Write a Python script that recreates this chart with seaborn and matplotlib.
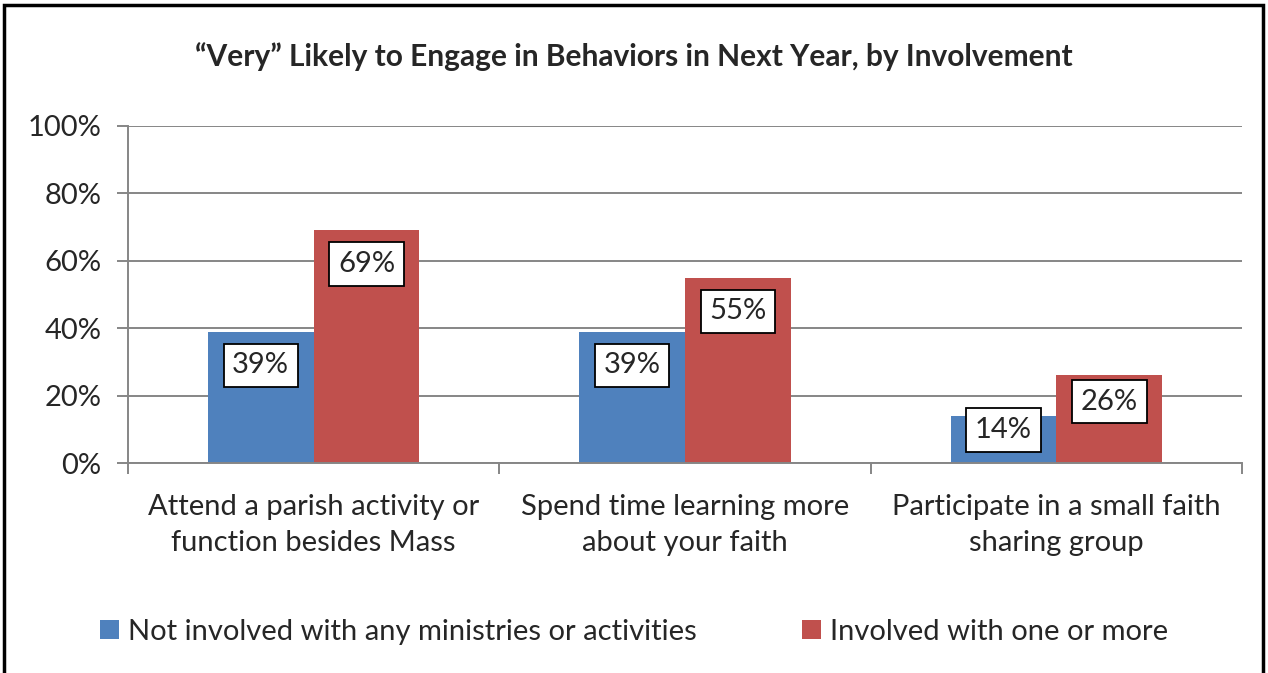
import numpy as np
import pandas as pd
import matplotlib
matplotlib.use("Agg")
import matplotlib.pyplot as plt
import seaborn as sns
from matplotlib.patches import Rectangle, Patch

TITLE = "\u201cVery\u201d Likely to Engage in Behaviors in Next Year, by Involvement"
CATEGORIES = [
    "Attend a parish activity or\nfunction besides Mass",
    "Spend time learning more\nabout your faith",
    "Participate in a small faith\nsharing group",
]
GROUPS = ["Not involved with any ministries or activities", "Involved with one or more"]
NOT_INVOLVED = [39, 39, 14]
INVOLVED = [69, 55, 26]
COLORS = ["#4F81BD", "#C0504D"]
YTICKS = [0, 20, 40, 60, 80, 100]

FONT = ["Lato", "DejaVu Sans"]
FS = 21

df = pd.DataFrame({
    "category": CATEGORIES * 2,
    "group": [GROUPS[0]] * 3 + [GROUPS[1]] * 3,
    "value": NOT_INVOLVED + INVOLVED,
})

sns.set_theme(style="white")
plt.rcParams["font.family"] = FONT

fig = plt.figure(figsize=(12.68, 6.73), dpi=100)
ax = fig.add_axes([128 / 1268, 1 - 463 / 673, (1242 - 128) / 1268, (463 - 126) / 673])

sns.barplot(data=df, x="category", y="value", hue="group", palette=COLORS,
            width=0.57, gap=0, saturation=1, linewidth=0, ax=ax, legend=False,
            errorbar=None)

ax.set_ylim(0, 100)
ax.set_xlim(-0.5, 2.5)
ax.set_yticks(YTICKS)
ax.set_yticklabels([f"{t}%" for t in YTICKS], fontsize=FS)
ax.set_xticks(range(3))
ax.set_xticklabels(CATEGORIES, fontsize=FS, linespacing=1.5)
ax.set_xlabel("")
ax.set_ylabel("")
ax.yaxis.grid(True, color="#868686", linewidth=1.4)
ax.set_axisbelow(True)

grey = "#868686"
for s in ["top", "right"]:
    ax.spines[s].set_visible(False)
for s in ["left", "bottom"]:
    ax.spines[s].set_color(grey)
    ax.spines[s].set_linewidth(1.4)
ax.tick_params(axis="y", length=8, width=1.4, color=grey, left=True, pad=11)
ax.tick_params(axis="x", which="major", length=0, pad=22)
ax.set_xticks([-0.5, 0.5, 1.5, 2.5], minor=True)
ax.tick_params(axis="x", which="minor", length=8, width=1.4, color=grey, bottom=True)

# data labels, inside end
for cont in ax.containers:
    for bar in cont:
        v = bar.get_height()
        off = min(10, v * 0.3)
        ax.text(bar.get_x() + bar.get_width() / 2, v - off, f"{v:.0f}%",
                ha="center", va="center", fontsize=FS,
                bbox=dict(boxstyle="square,pad=0.3", fc="white", ec="black", lw=1.3))

fig.text(0.5, 1 - 57 / 673, TITLE, ha="center", va="center", fontsize=21.5,
         fontweight="bold")

handles = [Patch(facecolor=c, edgecolor="none") for c in COLORS]
fig.legend(handles, GROUPS, loc="center", bbox_to_anchor=(0.5, 1 - 632 / 673), ncol=2,
           frameon=False, fontsize=FS, handlelength=0.65, handleheight=0.65,
           handletextpad=0.3, columnspacing=3.6)

fig.patches.append(Rectangle((4 / 1268, -0.02), 1259 / 1268, 1.02 - 4.5 / 673,
                             transform=fig.transFigure, fill=False, ec="black", lw=2.5))

fig.savefig("out.png", dpi=100)
